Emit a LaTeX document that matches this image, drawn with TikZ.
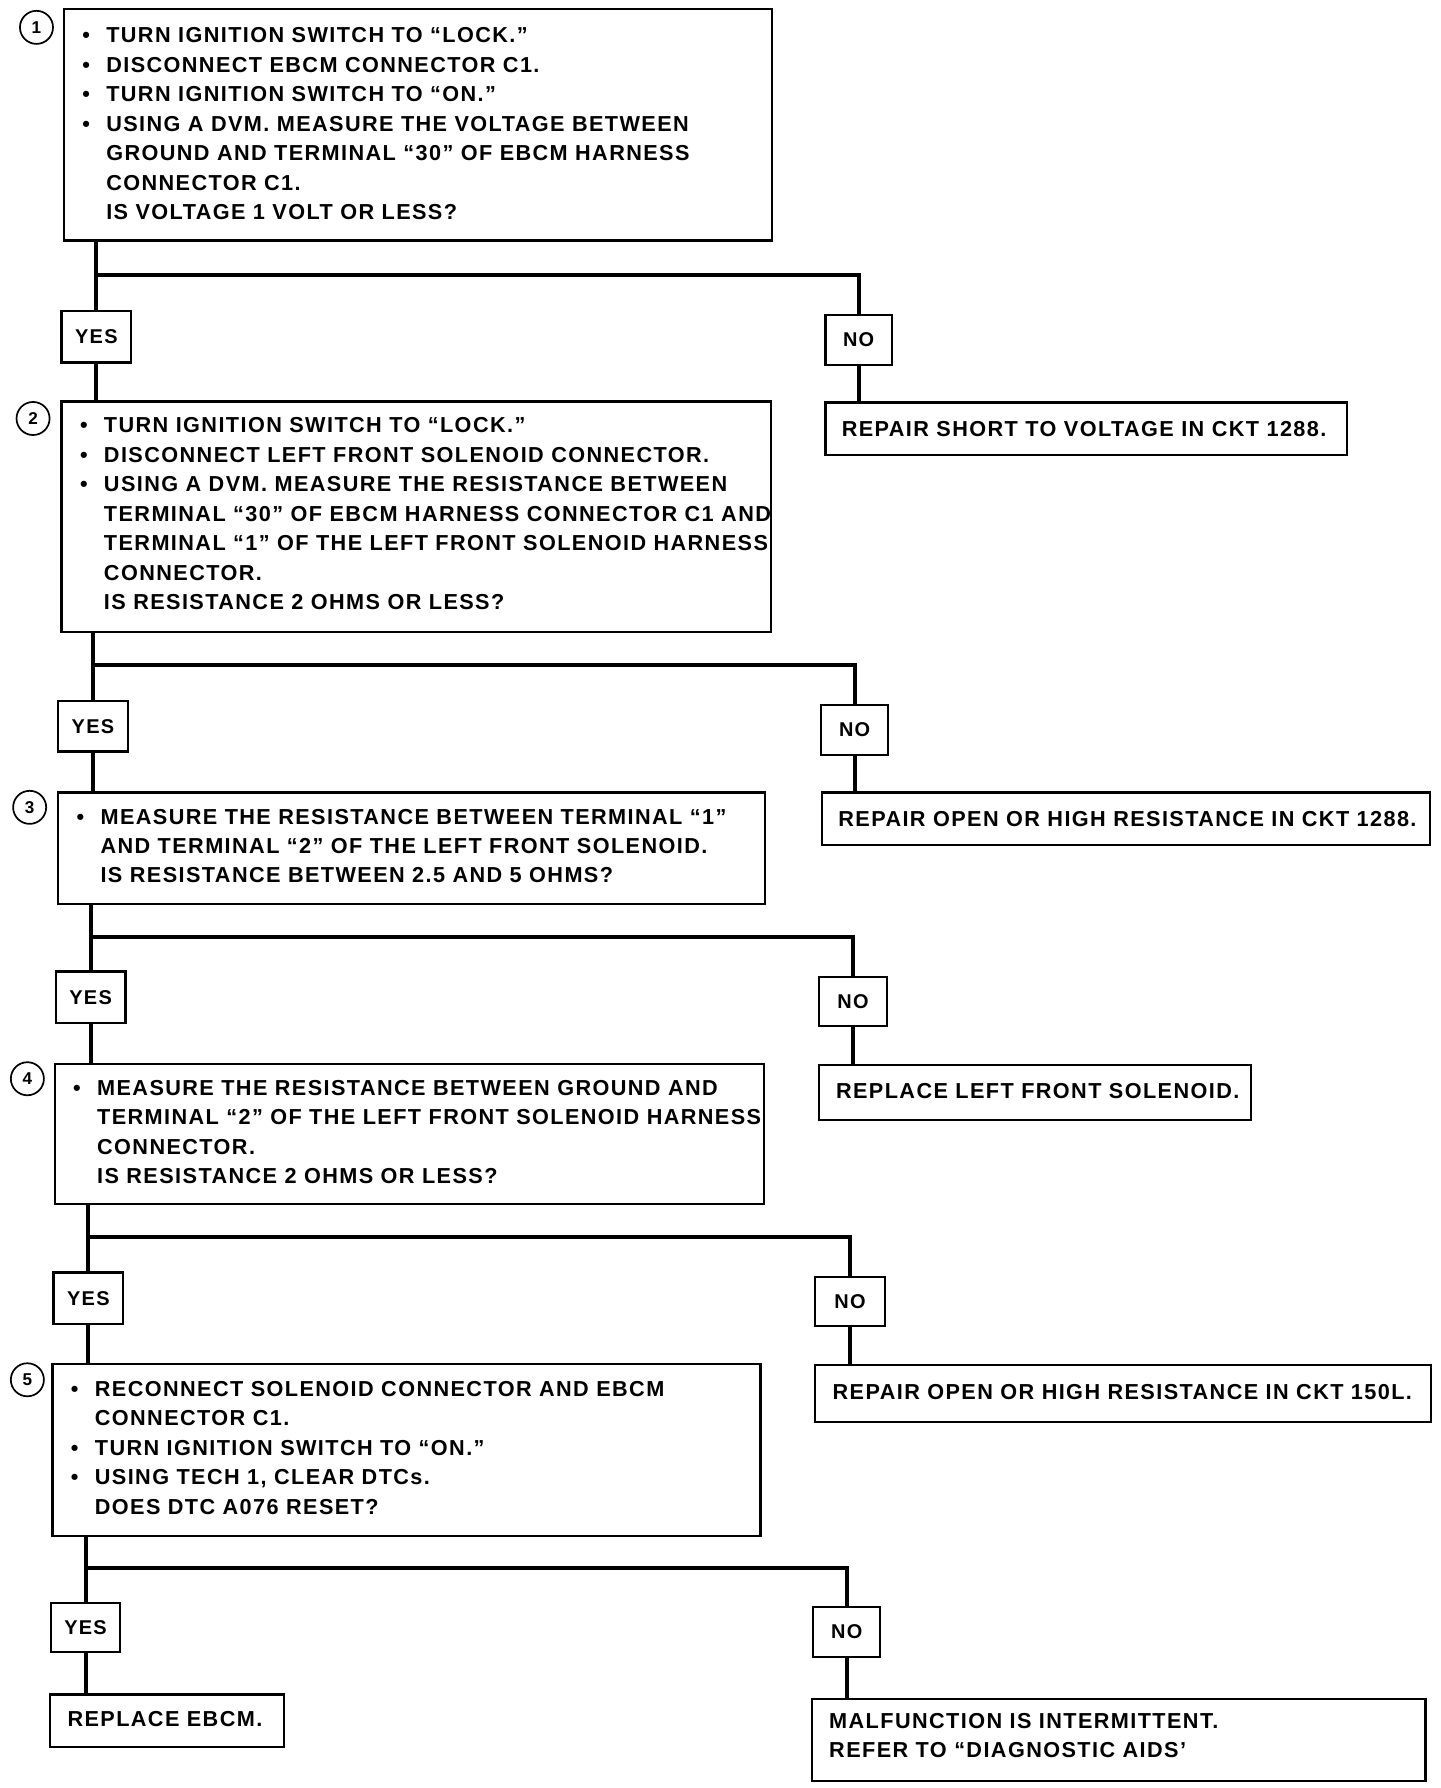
\documentclass[tikz,border=0pt]{standalone}
\usepackage{fontspec}
\setmainfont{Liberation Sans}[LetterSpace=6.5]
\newcommand\bodyfont{\bfseries\fontsize{19}{25.8}\selectfont}
\newcommand\ynfont{\bfseries\fontsize{17.5}{20}\selectfont}
\newcommand\numfont{\bfseries\fontsize{15}{17}\selectfont}
\newcommand\bl{\makebox[21pt][l]{\textbullet}}
\newcommand\ind{\hspace*{21pt}}
\tikzset{
  box/.style={draw, line width=2pt, inner sep=0pt, anchor=north west},
  yn/.style={draw, line width=2pt, inner sep=0pt, font=\ynfont},
  txt/.style={inner sep=0pt, anchor=north west, align=left, font=\bodyfont},
  num/.style={draw, circle, line width=1.5pt, minimum size=29pt, inner sep=0pt, font=\numfont},
  conn/.style={line width=3.5pt}
}
\begin{document}
\begin{tikzpicture}[x=1pt,y=-1pt]
\fill[white] (0,0) rectangle (1263,1568);
\useasboundingbox (0,0) rectangle (1263,1568);

% step boxes
\node[box, minimum width=621pt, minimum height=203pt] (b1) at (55,7) {};
\node[box, minimum width=622pt, minimum height=202pt] (b2) at (53,351) {};
\node[box, minimum width=620pt, minimum height=98pt] (b3) at (50,694) {};
\node[box, minimum width=622pt, minimum height=123pt] (b4) at (47,932) {};
\node[box, minimum width=621pt, minimum height=151pt] (b5) at (45,1195) {};

% result boxes
\node[box, minimum width=457pt, minimum height=46pt] (r1) at (723,352) {};
\node[box, minimum width=533pt, minimum height=46pt] (r2) at (720,694) {};
\node[box, minimum width=379pt, minimum height=48pt] (r3) at (717,933) {};
\node[box, minimum width=540pt, minimum height=50pt] (r4) at (714,1196) {};
\node[box, minimum width=205pt, minimum height=46pt] (r5) at (43,1485) {};
\node[box, minimum width=538pt, minimum height=72pt] (r6) at (711,1489) {};

% step numbers
\node[num] (c1) at (32,24) {1};
\node[num] (c2) at (29,367) {2};
\node[num] (c3) at (26,708) {3};
\node[num] (c4) at (24,946) {4};
\node[num] (c5) at (24,1210) {5};

% texts
\node[txt] (t1) at (72,24.2) {\bl TURN IGNITION SWITCH TO “LOCK.”\\
\bl DISCONNECT EBCM CONNECTOR C1.\\
\bl TURN IGNITION SWITCH TO “ON.”\\
\bl USING A DVM. MEASURE THE VOLTAGE BETWEEN\\
\ind GROUND AND TERMINAL “30” OF EBCM HARNESS\\
\ind CONNECTOR C1.\\
\ind IS VOLTAGE 1 VOLT OR LESS?};

\node[txt] (t2) at (70,366.2) {\bl TURN IGNITION SWITCH TO “LOCK.”\\
\bl DISCONNECT LEFT FRONT SOLENOID CONNECTOR.\\
\bl USING A DVM. MEASURE THE RESISTANCE BETWEEN\\
\ind TERMINAL “30” OF EBCM HARNESS CONNECTOR C1 AND\\
\ind TERMINAL “1” OF THE LEFT FRONT SOLENOID HARNESS\\
\ind CONNECTOR.\\
\ind IS RESISTANCE 2 OHMS OR LESS?};

\node[txt] (t3) at (67,709.2) {\bl MEASURE THE RESISTANCE BETWEEN TERMINAL “1”\\
\ind AND TERMINAL “2” OF THE LEFT FRONT SOLENOID.\\
\ind IS RESISTANCE BETWEEN 2.5 AND 5 OHMS?};

\node[txt] (t4) at (64,947.2) {\bl MEASURE THE RESISTANCE BETWEEN GROUND AND\\
\ind TERMINAL “2” OF THE LEFT FRONT SOLENOID HARNESS\\
\ind CONNECTOR.\\
\ind IS RESISTANCE 2 OHMS OR LESS?};

\node[txt] (t5) at (62,1211.2) {\bl RECONNECT SOLENOID CONNECTOR AND EBCM\\
\ind CONNECTOR C1.\\
\bl TURN IGNITION SWITCH TO “ON.”\\
\bl USING TECH 1, CLEAR DTCs.\\
\ind DOES DTC A076 RESET?};

\node[txt] (tr1) at (738,369.2) {REPAIR SHORT TO VOLTAGE IN CKT 1288.};
\node[txt] (tr2) at (735,711.2) {REPAIR OPEN OR HIGH RESISTANCE IN CKT 1288.};
\node[txt] (tr3) at (733,950.2) {REPLACE LEFT FRONT SOLENOID.};
\node[txt] (tr4) at (730,1214.2) {REPAIR OPEN OR HIGH RESISTANCE IN CKT 150L.};
\node[txt] (tr5) at (59,1500.2) {REPLACE EBCM.};
\node[txt] (tr6) at (727,1502.2) {MALFUNCTION IS INTERMITTENT.\\ REFER TO “DIAGNOSTIC AIDS’};

% yes / no boxes
\node[yn, minimum width=61pt, minimum height=45pt] (y1) at (84.5,295.5) {YES};
\node[yn, minimum width=58pt, minimum height=44pt] (n1) at (753,298) {NO};
\node[yn, minimum width=61pt, minimum height=44pt] (y2) at (81.5,637) {YES};
\node[yn, minimum width=59pt, minimum height=44pt] (n2) at (749.5,640) {NO};
\node[yn, minimum width=61pt, minimum height=45pt] (y3) at (79.5,874.5) {YES};
\node[yn, minimum width=60pt, minimum height=43pt] (n3) at (748,878.5) {NO};
\node[yn, minimum width=61pt, minimum height=45pt] (y4) at (77.5,1138.5) {YES};
\node[yn, minimum width=61pt, minimum height=43pt] (n4) at (745.5,1141.5) {NO};
\node[yn, minimum width=60pt, minimum height=43pt] (y5) at (75,1427.5) {YES};
\node[yn, minimum width=59pt, minimum height=44pt] (n5) at (742.5,1431) {NO};

% junctions
\coordinate (j1) at (84.5,241);
\coordinate (j2) at (81.5,583);
\coordinate (j3) at (79.5,822);
\coordinate (j4) at (77.5,1085);
\coordinate (j5) at (75,1375);

% connectors
\draw[conn] (y1.north |- b1.south) -- (y1.north);
\draw[conn] (j1) -- (j1 -| n1.north) -- (n1.north);
\draw[conn] (y1.south) -- (y1.south |- b2.north);
\draw[conn] (n1.south) -- (n1.south |- r1.north);

\draw[conn] (y2.north |- b2.south) -- (y2.north);
\draw[conn] (j2) -- (j2 -| n2.north) -- (n2.north);
\draw[conn] (y2.south) -- (y2.south |- b3.north);
\draw[conn] (n2.south) -- (n2.south |- r2.north);

\draw[conn] (y3.north |- b3.south) -- (y3.north);
\draw[conn] (j3) -- (j3 -| n3.north) -- (n3.north);
\draw[conn] (y3.south) -- (y3.south |- b4.north);
\draw[conn] (n3.south) -- (n3.south |- r3.north);

\draw[conn] (y4.north |- b4.south) -- (y4.north);
\draw[conn] (j4) -- (j4 -| n4.north) -- (n4.north);
\draw[conn] (y4.south) -- (y4.south |- b5.north);
\draw[conn] (n4.south) -- (n4.south |- r4.north);

\draw[conn] (y5.north |- b5.south) -- (y5.north);
\draw[conn] (j5) -- (j5 -| n5.north) -- (n5.north);
\draw[conn] (y5.south) -- (y5.south |- r5.north);
\draw[conn] (n5.south) -- (n5.south |- r6.north);
\end{tikzpicture}
\end{document}
